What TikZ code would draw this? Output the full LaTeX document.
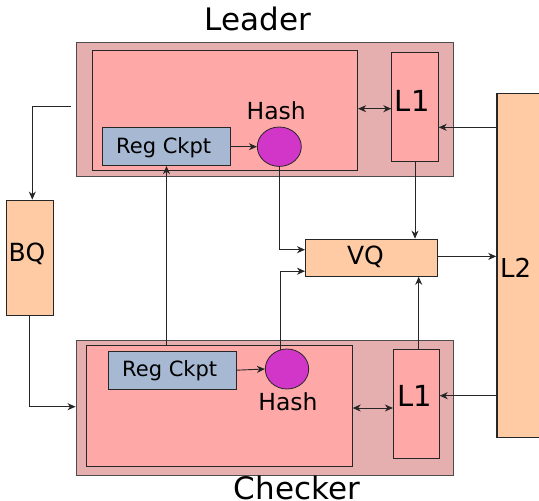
\documentclass[tikz,border=0pt]{standalone}
\usepackage{fontspec}
\setmainfont{DejaVu Sans}
\usetikzlibrary{arrows.meta,calc,shapes.geometric}
\definecolor{outerc}{HTML}{E6AFAF}
\definecolor{innerc}{HTML}{FFA8A8}
\definecolor{regc}{HTML}{A7B9D2}
\definecolor{hashc}{HTML}{D236C8}
\definecolor{peach}{HTML}{FFCBA5}
\tikzset{
  box/.style={draw=black!85, line width=0.8pt, inner sep=0pt, rectangle},
  outerbox/.style={box, fill=outerc, draw=black!70, line width=1pt},
  innerbox/.style={box, fill=innerc},
  regbox/.style={box, fill=regc},
  hashnode/.style={ellipse, draw=black!85, line width=0.8pt, fill=hashc, inner sep=0pt},
  peachbox/.style={box, fill=peach},
  txt/.style={inner sep=0pt, anchor=base},
  tip/.style={},
  arr/.style={-{Stealth[length=8pt,width=7pt,inset=2.5pt]}, line width=0.9pt, draw=black!85},
  darr/.style={{Stealth[length=8pt,width=7pt,inset=2.5pt]}-{Stealth[length=8pt,width=7pt,inset=2.5pt]}, line width=0.9pt, draw=black!85}
}
\begin{document}
\begin{tikzpicture}[x=1pt,y=-1pt]
\useasboundingbox (0,0) rectangle (539,501);
\clip (0,0) rectangle (539,501);
% L2
\node[peachbox, line width=1.5pt, draw=black!85, minimum width=70pt, minimum height=344pt] (l2) at (532,265.3) {};
% Leader
\node[outerbox, minimum width=377pt, minimum height=134pt] (leaderOuter) at (264.5,109) {};
\node[innerbox, minimum width=265.4pt, minimum height=120pt] (leaderInner) at (225,110) {};
\node[innerbox, minimum width=46.6pt, minimum height=108.7pt] (leaderL1) at (415,106.7) {};
\node[regbox, minimum width=128.4pt, minimum height=38pt] (leaderReg) at (166.5,146.7) {};
\node[hashnode, minimum width=44pt, minimum height=39.4pt] (leaderHash) at (279.3,146.7) {};
% Checker
\node[outerbox, minimum width=377.3pt, minimum height=135.3pt] (checkerOuter) at (264.7,408.3) {};
\node[innerbox, minimum width=265.6pt, minimum height=120.7pt] (checkerInner) at (219.5,405.7) {};
\node[innerbox, minimum width=46pt, minimum height=109pt] (checkerL1) at (416.3,403.5) {};
\node[regbox, minimum width=127.7pt, minimum height=38.3pt] (checkerReg) at (172.2,370.2) {};
\node[hashnode, minimum width=43.4pt, minimum height=40pt] (checkerHash) at (287,369) {};
% BQ, VQ
\node[peachbox, minimum width=47.5pt, minimum height=115pt] (bq) at (29.8,257.5) {};
\node[peachbox, minimum width=132.4pt, minimum height=37.3pt] (vq) at (371.6,257.7) {};
% Texts
\node[txt, font=\fontsize{31}{31}\selectfont] (tLeader) at (258,30.7) {Leader};
\node[txt, font=\fontsize{31}{31}\selectfont] (tChecker) at (297,499.5) {Checker};
\node[txt, font=\fontsize{23.5}{23.5}\selectfont] (tHashL) at (276.2,119) {Hash};
\node[txt, font=\fontsize{23.5}{23.5}\selectfont] (tHashC) at (288,410) {Hash};
\node[txt, font=\fontsize{29}{29}\selectfont] (tL1L) at (412.3,111.7) {L1};
\node[txt, font=\fontsize{29}{29}\selectfont] (tL1C) at (414.5,406.7) {L1};
\node[txt, font=\fontsize{21}{21}\selectfont] (tRegL) at (163.7,153.3) {Reg Ckpt};
\node[txt, font=\fontsize{21}{21}\selectfont] (tRegC) at (169.7,376.7) {Reg Ckpt};
\node[txt, font=\fontsize{25}{25}\selectfont] (tVQ) at (365.5,264.3) {VQ};
\node[txt, font=\fontsize{25}{25}\selectfont] (tBQ) at (27,261.6) {BQ};
\node[txt, font=\fontsize{26}{26}\selectfont] (tL2) at (515.6,277.7) {L2};
% Connectors
\coordinate (lstart) at (71,106);
\draw[arr] (lstart) -| ($(bq.north)+(2.5,0)$);
\draw[arr] (bq.south) |- ($(checkerOuter.west)+(0,-1.6)$);
\draw[arr] (checkerInner.north -| leaderReg.south) -- (leaderReg.south);
\draw[arr] (leaderReg.east) -- (leaderHash.west);
\draw[arr] (checkerReg.east) -- (checkerHash.west);
\draw[arr] (leaderHash.south) |- ($(vq.west)+(0,-8)$);
\draw[arr] (checkerHash.110) |- ($(vq.west)+(0,13.5)$);
\draw[arr] (leaderL1.south) -- (leaderL1.south |- vq.north);
\draw[arr] ($(checkerL1.north)+(2.4,0)$) -- ($(checkerL1.north |- vq.south)+(2.4,0)$);
\draw[arr] ($(vq.east)+(0,-1.3)$) -- ($(vq.east -| l2.west)+(0,-1.3)$);
\coordinate (aL) at ($(leaderL1.east)+(0,20.6)$);
\draw[arr] (l2.west |- aL) -- (aL);
\coordinate (aC) at ($(checkerL1.east)+(0,-7.8)$);
\draw[arr] (l2.west |- aC) -- (aC);
\draw[darr] ($(leaderInner.east)+(0,-1.3)$) -- ($(leaderInner.east -| leaderL1.west)+(0,-1.3)$);
\draw[darr] ($(checkerInner.east)+(0,2.3)$) -- ($(checkerInner.east -| checkerL1.west)+(0,2.3)$);
\end{tikzpicture}
\end{document}
